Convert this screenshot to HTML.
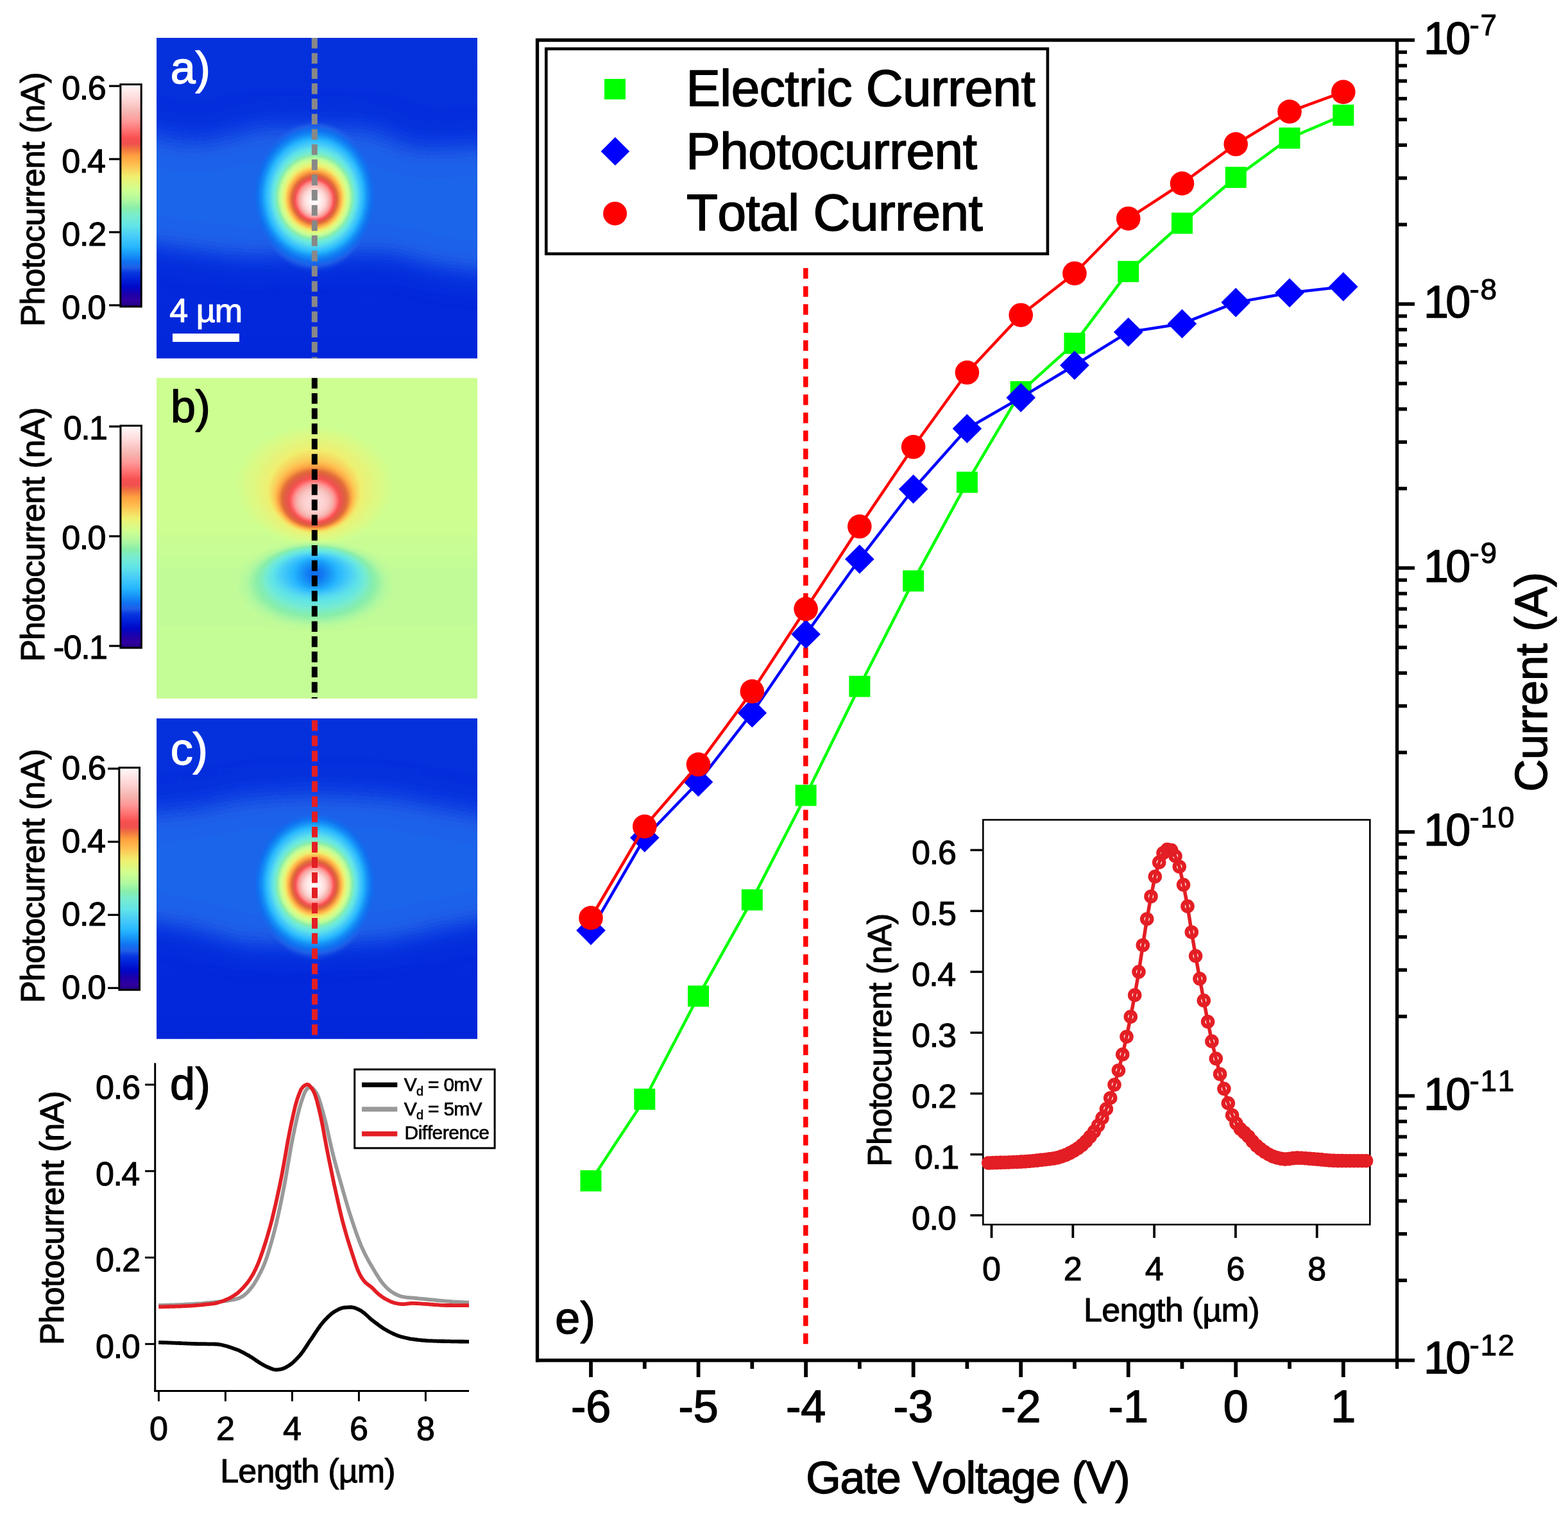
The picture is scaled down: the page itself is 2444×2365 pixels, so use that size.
<!DOCTYPE html>
<html><head><meta charset="utf-8"><title>Photocurrent figure</title>
<style>html,body{margin:0;padding:0;background:#fff}svg{display:block}text{font-family:"Liberation Sans",Arial,Helvetica,sans-serif;font-kerning:none;stroke-linejoin:round}</style>
</head><body>
<svg width="2444" height="2365" viewBox="0 0 2444 2365">
<defs>
<filter id="hm" x="-5%" y="-5%" width="110%" height="110%" color-interpolation-filters="sRGB">
<feGaussianBlur stdDeviation="2.6"/>
<feComponentTransfer><feFuncR type="table" tableValues="0.125 0.146 0.167 0.188 0.169 0.149 0.129 0.103 0.074 0.046 0.017 0.000 0.000 0.000 0.000 0.003 0.012 0.020 0.028 0.052 0.085 0.119 0.108 0.085 0.063 0.070 0.077 0.084 0.091 0.104 0.119 0.135 0.151 0.170 0.193 0.215 0.238 0.260 0.282 0.300 0.317 0.335 0.352 0.369 0.387 0.403 0.420 0.437 0.454 0.471 0.486 0.500 0.515 0.530 0.562 0.598 0.633 0.669 0.699 0.722 0.744 0.766 0.789 0.811 0.830 0.849 0.867 0.886 0.904 0.923 0.941 0.950 0.959 0.968 0.977 0.986 0.995 0.998 0.992 0.986 0.981 0.975 0.958 0.935 0.911 0.888 0.882 0.888 0.894 0.920 0.946 0.973 0.979 0.986 0.993 1.000 1.000 1.000 1.000 1.000 1.000 0.992 0.984 0.976 0.969 0.961 0.966 0.972 0.978 0.983 0.989 0.994 1.000 1.000 1.000 1.000 1.000 1.000 1.000 1.000 1.000"/><feFuncG type="table" tableValues="0.000 0.000 0.000 0.000 0.000 0.000 0.000 0.006 0.013 0.020 0.027 0.041 0.064 0.088 0.111 0.135 0.160 0.185 0.210 0.253 0.309 0.365 0.394 0.417 0.439 0.475 0.511 0.546 0.582 0.615 0.646 0.678 0.709 0.730 0.744 0.758 0.772 0.786 0.800 0.817 0.835 0.852 0.870 0.887 0.897 0.903 0.909 0.914 0.920 0.925 0.927 0.929 0.931 0.933 0.940 0.949 0.958 0.967 0.975 0.979 0.984 0.989 0.994 0.999 0.993 0.984 0.976 0.967 0.958 0.950 0.941 0.913 0.884 0.856 0.827 0.799 0.770 0.740 0.707 0.675 0.642 0.609 0.569 0.524 0.479 0.434 0.401 0.377 0.353 0.340 0.327 0.314 0.345 0.376 0.408 0.439 0.471 0.502 0.533 0.565 0.596 0.619 0.642 0.664 0.687 0.710 0.729 0.749 0.769 0.788 0.808 0.827 0.847 0.864 0.880 0.897 0.914 0.930 0.947 0.964 0.980"/><feFuncB type="table" tableValues="0.502 0.544 0.586 0.627 0.637 0.647 0.657 0.682 0.710 0.739 0.767 0.791 0.806 0.822 0.838 0.850 0.859 0.867 0.875 0.885 0.896 0.908 0.919 0.930 0.941 0.948 0.955 0.963 0.970 0.977 0.984 0.990 0.997 0.997 0.992 0.987 0.982 0.977 0.973 0.961 0.949 0.938 0.926 0.914 0.900 0.883 0.866 0.849 0.832 0.816 0.780 0.745 0.709 0.674 0.660 0.651 0.642 0.633 0.623 0.612 0.601 0.589 0.578 0.567 0.550 0.531 0.513 0.495 0.476 0.458 0.439 0.420 0.401 0.382 0.363 0.344 0.325 0.308 0.295 0.282 0.269 0.256 0.246 0.238 0.231 0.223 0.234 0.258 0.282 0.293 0.303 0.314 0.345 0.376 0.408 0.439 0.471 0.502 0.533 0.565 0.596 0.615 0.634 0.653 0.671 0.690 0.713 0.735 0.757 0.780 0.802 0.825 0.847 0.864 0.880 0.897 0.914 0.930 0.947 0.964 0.980"/><feFuncA type="linear" slope="0" intercept="1"/></feComponentTransfer></filter>
<linearGradient id="bgac" x1="0" y1="0" x2="0" y2="1"><stop offset="0" stop-color="#252525"/><stop offset="0.5" stop-color="#242424"/><stop offset="1" stop-color="#212121"/></linearGradient>
<filter id="hmb" x="-5%" y="-5%" width="110%" height="110%" color-interpolation-filters="sRGB">
<feGaussianBlur stdDeviation="3.0"/>
<feComponentTransfer><feFuncR type="table" tableValues="0.125 0.146 0.167 0.188 0.169 0.149 0.129 0.103 0.074 0.046 0.017 0.000 0.000 0.000 0.000 0.003 0.012 0.020 0.028 0.052 0.085 0.119 0.108 0.085 0.063 0.070 0.077 0.084 0.091 0.104 0.119 0.135 0.151 0.170 0.193 0.215 0.238 0.260 0.282 0.300 0.317 0.335 0.352 0.369 0.387 0.403 0.420 0.437 0.454 0.471 0.486 0.500 0.515 0.530 0.562 0.598 0.633 0.669 0.699 0.722 0.744 0.766 0.789 0.811 0.830 0.849 0.867 0.886 0.904 0.923 0.941 0.950 0.959 0.968 0.977 0.986 0.995 0.998 0.992 0.986 0.981 0.975 0.958 0.935 0.911 0.888 0.882 0.888 0.894 0.920 0.946 0.973 0.979 0.986 0.993 1.000 1.000 1.000 1.000 1.000 1.000 0.992 0.984 0.976 0.969 0.961 0.966 0.972 0.978 0.983 0.989 0.994 1.000 1.000 1.000 1.000 1.000 1.000 1.000 1.000 1.000"/><feFuncG type="table" tableValues="0.000 0.000 0.000 0.000 0.000 0.000 0.000 0.006 0.013 0.020 0.027 0.041 0.064 0.088 0.111 0.135 0.160 0.185 0.210 0.253 0.309 0.365 0.394 0.417 0.439 0.475 0.511 0.546 0.582 0.615 0.646 0.678 0.709 0.730 0.744 0.758 0.772 0.786 0.800 0.817 0.835 0.852 0.870 0.887 0.897 0.903 0.909 0.914 0.920 0.925 0.927 0.929 0.931 0.933 0.940 0.949 0.958 0.967 0.975 0.979 0.984 0.989 0.994 0.999 0.993 0.984 0.976 0.967 0.958 0.950 0.941 0.913 0.884 0.856 0.827 0.799 0.770 0.740 0.707 0.675 0.642 0.609 0.569 0.524 0.479 0.434 0.401 0.377 0.353 0.340 0.327 0.314 0.345 0.376 0.408 0.439 0.471 0.502 0.533 0.565 0.596 0.619 0.642 0.664 0.687 0.710 0.729 0.749 0.769 0.788 0.808 0.827 0.847 0.864 0.880 0.897 0.914 0.930 0.947 0.964 0.980"/><feFuncB type="table" tableValues="0.502 0.544 0.586 0.627 0.637 0.647 0.657 0.682 0.710 0.739 0.767 0.791 0.806 0.822 0.838 0.850 0.859 0.867 0.875 0.885 0.896 0.908 0.919 0.930 0.941 0.948 0.955 0.963 0.970 0.977 0.984 0.990 0.997 0.997 0.992 0.987 0.982 0.977 0.973 0.961 0.949 0.938 0.926 0.914 0.900 0.883 0.866 0.849 0.832 0.816 0.780 0.745 0.709 0.674 0.660 0.651 0.642 0.633 0.623 0.612 0.601 0.589 0.578 0.567 0.550 0.531 0.513 0.495 0.476 0.458 0.439 0.420 0.401 0.382 0.363 0.344 0.325 0.308 0.295 0.282 0.269 0.256 0.246 0.238 0.231 0.223 0.234 0.258 0.282 0.293 0.303 0.314 0.345 0.376 0.408 0.439 0.471 0.502 0.533 0.565 0.596 0.615 0.634 0.653 0.671 0.690 0.713 0.735 0.757 0.780 0.802 0.825 0.847 0.864 0.880 0.897 0.914 0.930 0.947 0.964 0.980"/><feFuncA type="linear" slope="0" intercept="1"/></feComponentTransfer></filter>
<filter id="soft" x="-30%" y="-30%" width="160%" height="160%" color-interpolation-filters="sRGB"><feGaussianBlur stdDeviation="24"/></filter>
<linearGradient id="cb" x1="0" y1="0" x2="0" y2="1"><stop offset="0.0000" stop-color="#fffafa"/><stop offset="0.0667" stop-color="#ffd8d8"/><stop offset="0.1250" stop-color="#f5b5b0"/><stop offset="0.1667" stop-color="#ff9898"/><stop offset="0.2083" stop-color="#ff7070"/><stop offset="0.2417" stop-color="#f85050"/><stop offset="0.2667" stop-color="#f05050"/><stop offset="0.2883" stop-color="#f07040"/><stop offset="0.3217" stop-color="#ffa040"/><stop offset="0.3617" stop-color="#ffc050"/><stop offset="0.4167" stop-color="#f0f070"/><stop offset="0.4733" stop-color="#d0ff90"/><stop offset="0.5200" stop-color="#b0f8a0"/><stop offset="0.5567" stop-color="#88eeaa"/><stop offset="0.5917" stop-color="#78ecd0"/><stop offset="0.6383" stop-color="#60e4e8"/><stop offset="0.6833" stop-color="#48ccf8"/><stop offset="0.7300" stop-color="#28b8ff"/><stop offset="0.7633" stop-color="#1898f8"/><stop offset="0.8000" stop-color="#1070f0"/><stop offset="0.8233" stop-color="#2060e8"/><stop offset="0.8467" stop-color="#0838e0"/><stop offset="0.8783" stop-color="#0020d8"/><stop offset="0.9117" stop-color="#0008c8"/><stop offset="0.9483" stop-color="#2000a8"/><stop offset="0.9750" stop-color="#3000a0"/><stop offset="1.0000" stop-color="#200080"/></linearGradient>
<clipPath id="clipa"><rect x="244.0" y="59.0" width="500.0" height="499.7"/></clipPath>
<clipPath id="clipb"><rect x="244.0" y="589.2" width="500.0" height="499.7"/></clipPath>
<linearGradient id="bgb" x1="0" y1="0" x2="0" y2="1"><stop offset="0" stop-color="#858585"/><stop offset="0.45" stop-color="#868686"/><stop offset="0.6" stop-color="#818181"/><stop offset="1" stop-color="#838383"/></linearGradient>
<clipPath id="clipc"><rect x="244.0" y="1120.0" width="500.0" height="499.7"/></clipPath>
</defs>
<rect width="2444" height="2365" fill="#fff"/>
<g clip-path="url(#clipa)"><g filter="url(#hm)">
<rect x="214.00" y="29.00" width="560.00" height="559.70" fill="url(#bgac)" />
<g filter="url(#soft)"><path d="M190,196 L296,222 L358,212 L403,196 L582,200 L645,230 L717,226 L790,226 L790,432 L681,420 L609,398 L376,404 L314,396 L190,378Z" fill="#2f2f2f"/></g>
<g style="mix-blend-mode:lighten">
<ellipse cx="490.3" cy="305.0" rx="106.0" ry="124.0" fill="#232323"/><ellipse cx="490.3" cy="305.0" rx="103.2" ry="120.5" fill="#262626"/><ellipse cx="490.3" cy="305.0" rx="100.4" ry="116.9" fill="#282828"/><ellipse cx="490.3" cy="305.0" rx="97.6" ry="113.5" fill="#2b2b2b"/><ellipse cx="490.3" cy="305.0" rx="95.3" ry="110.5" fill="#2d2d2d"/><ellipse cx="490.3" cy="305.0" rx="92.9" ry="107.5" fill="#303030"/><ellipse cx="490.3" cy="305.0" rx="90.6" ry="104.5" fill="#333333"/><ellipse cx="490.3" cy="305.0" rx="88.1" ry="101.8" fill="#353535"/><ellipse cx="490.3" cy="305.0" rx="85.7" ry="99.1" fill="#383838"/><ellipse cx="490.3" cy="305.0" rx="83.2" ry="96.4" fill="#3a3a3a"/><ellipse cx="490.3" cy="305.1" rx="81.3" ry="94.2" fill="#3d3d3d"/><ellipse cx="490.3" cy="305.2" rx="80.0" ry="92.7" fill="#3f3f3f"/><ellipse cx="490.3" cy="305.3" rx="78.7" ry="91.1" fill="#424242"/><ellipse cx="490.3" cy="305.4" rx="77.4" ry="89.5" fill="#444444"/><ellipse cx="490.3" cy="305.5" rx="76.1" ry="88.0" fill="#474747"/><ellipse cx="490.3" cy="305.7" rx="74.7" ry="86.4" fill="#4a4a4a"/><ellipse cx="490.3" cy="305.8" rx="73.4" ry="84.9" fill="#4c4c4c"/><ellipse cx="490.3" cy="305.9" rx="72.1" ry="83.3" fill="#4f4f4f"/><ellipse cx="490.3" cy="306.0" rx="70.8" ry="81.8" fill="#515151"/><ellipse cx="490.3" cy="306.1" rx="69.8" ry="80.4" fill="#545454"/><ellipse cx="490.3" cy="306.2" rx="68.8" ry="79.0" fill="#565656"/><ellipse cx="490.3" cy="306.3" rx="67.8" ry="77.6" fill="#595959"/><ellipse cx="490.3" cy="306.4" rx="66.8" ry="76.2" fill="#5b5b5b"/><ellipse cx="490.3" cy="306.5" rx="65.8" ry="74.8" fill="#5e5e5e"/><ellipse cx="490.3" cy="306.6" rx="64.8" ry="73.4" fill="#606060"/><ellipse cx="490.3" cy="306.7" rx="63.8" ry="72.0" fill="#636363"/><ellipse cx="490.3" cy="306.8" rx="62.8" ry="70.6" fill="#666666"/><ellipse cx="490.3" cy="306.9" rx="61.8" ry="69.2" fill="#686868"/><ellipse cx="490.3" cy="307.0" rx="60.9" ry="67.8" fill="#6b6b6b"/><ellipse cx="490.3" cy="307.1" rx="60.2" ry="66.9" fill="#6d6d6d"/><ellipse cx="490.3" cy="307.2" rx="59.4" ry="66.0" fill="#707070"/><ellipse cx="490.3" cy="307.3" rx="58.7" ry="65.1" fill="#727272"/><ellipse cx="490.3" cy="307.4" rx="58.0" ry="64.2" fill="#757575"/><ellipse cx="490.3" cy="307.5" rx="57.2" ry="63.3" fill="#777777"/><ellipse cx="490.3" cy="307.6" rx="56.5" ry="62.4" fill="#7a7a7a"/><ellipse cx="490.3" cy="307.7" rx="55.8" ry="61.5" fill="#7d7d7d"/><ellipse cx="490.3" cy="307.7" rx="55.1" ry="60.6" fill="#7f7f7f"/><ellipse cx="490.3" cy="307.8" rx="54.3" ry="59.7" fill="#828282"/><ellipse cx="490.3" cy="307.9" rx="53.6" ry="58.8" fill="#848484"/><ellipse cx="490.3" cy="308.0" rx="52.8" ry="57.8" fill="#878787"/><ellipse cx="490.3" cy="308.2" rx="51.8" ry="56.6" fill="#898989"/><ellipse cx="490.3" cy="308.4" rx="50.7" ry="55.3" fill="#8c8c8c"/><ellipse cx="490.3" cy="308.6" rx="49.6" ry="54.1" fill="#8e8e8e"/><ellipse cx="490.3" cy="308.7" rx="48.6" ry="52.9" fill="#919191"/><ellipse cx="490.3" cy="308.9" rx="47.5" ry="51.6" fill="#939393"/><ellipse cx="490.3" cy="309.1" rx="46.6" ry="50.6" fill="#969696"/><ellipse cx="490.3" cy="309.2" rx="45.9" ry="49.7" fill="#999999"/><ellipse cx="490.3" cy="309.3" rx="45.2" ry="48.9" fill="#9b9b9b"/><ellipse cx="490.3" cy="309.4" rx="44.5" ry="48.1" fill="#9e9e9e"/><ellipse cx="490.3" cy="309.5" rx="43.8" ry="47.2" fill="#a0a0a0"/><ellipse cx="490.3" cy="309.7" rx="43.0" ry="46.4" fill="#a3a3a3"/><ellipse cx="490.3" cy="309.8" rx="42.3" ry="45.5" fill="#a5a5a5"/><ellipse cx="490.3" cy="309.9" rx="41.6" ry="44.7" fill="#a8a8a8"/><ellipse cx="490.3" cy="310.0" rx="40.8" ry="43.8" fill="#aaaaaa"/><ellipse cx="490.3" cy="310.2" rx="39.9" ry="42.7" fill="#adadad"/><ellipse cx="490.3" cy="310.4" rx="39.0" ry="41.6" fill="#b0b0b0"/><ellipse cx="490.3" cy="310.6" rx="38.0" ry="40.4" fill="#b2b2b2"/><ellipse cx="490.3" cy="310.8" rx="37.1" ry="39.3" fill="#b5b5b5"/><ellipse cx="490.3" cy="311.0" rx="36.2" ry="38.2" fill="#b7b7b7"/><ellipse cx="490.3" cy="311.0" rx="34.3" ry="36.3" fill="#bababa"/><ellipse cx="490.3" cy="311.0" rx="32.2" ry="34.2" fill="#bcbcbc"/><ellipse cx="490.3" cy="311.1" rx="31.1" ry="33.1" fill="#bfbfbf"/><ellipse cx="490.3" cy="311.2" rx="30.5" ry="32.5" fill="#c1c1c1"/><ellipse cx="490.3" cy="311.3" rx="29.9" ry="31.9" fill="#c4c4c4"/><ellipse cx="490.3" cy="311.4" rx="29.3" ry="31.3" fill="#c6c6c6"/><ellipse cx="490.3" cy="311.5" rx="28.7" ry="30.7" fill="#c9c9c9"/><ellipse cx="490.3" cy="311.6" rx="28.1" ry="30.1" fill="#cccccc"/><ellipse cx="490.3" cy="311.7" rx="27.5" ry="29.5" fill="#cecece"/><ellipse cx="490.3" cy="311.8" rx="26.9" ry="28.9" fill="#d1d1d1"/><ellipse cx="490.3" cy="311.9" rx="26.3" ry="28.3" fill="#d3d3d3"/><ellipse cx="490.3" cy="312.1" rx="25.6" ry="27.6" fill="#d6d6d6"/><ellipse cx="490.3" cy="312.1" rx="24.8" ry="26.8" fill="#d8d8d8"/><ellipse cx="490.3" cy="312.2" rx="24.0" ry="26.0" fill="#dbdbdb"/><ellipse cx="490.3" cy="312.4" rx="23.2" ry="25.2" fill="#dddddd"/><ellipse cx="490.3" cy="312.4" rx="22.4" ry="24.4" fill="#e0e0e0"/><ellipse cx="490.3" cy="312.6" rx="21.6" ry="23.6" fill="#e3e3e3"/><ellipse cx="490.3" cy="312.6" rx="20.8" ry="22.8" fill="#e5e5e5"/><ellipse cx="490.3" cy="312.8" rx="20.0" ry="22.0" fill="#e8e8e8"/><ellipse cx="490.3" cy="312.9" rx="19.2" ry="21.2" fill="#eaeaea"/><ellipse cx="490.3" cy="312.9" rx="18.4" ry="20.4" fill="#ededed"/><ellipse cx="490.3" cy="313.0" rx="17.2" ry="19.1" fill="#efefef"/><ellipse cx="490.3" cy="313.0" rx="15.5" ry="17.3" fill="#f2f2f2"/><ellipse cx="490.3" cy="313.0" rx="13.9" ry="15.5" fill="#f4f4f4"/><ellipse cx="490.3" cy="313.0" rx="12.2" ry="13.7" fill="#f7f7f7"/><ellipse cx="490.3" cy="313.0" rx="10.6" ry="11.9" fill="#f9f9f9"/><ellipse cx="490.3" cy="313.0" rx="8.9" ry="10.1" fill="#fcfcfc"/><ellipse cx="490.3" cy="313.0" rx="7.3" ry="8.3" fill="#ffffff"/>
</g>
</g></g>
<g clip-path="url(#clipb)"><g filter="url(#hmb)">
<rect x="214.00" y="559.20" width="560.00" height="559.70" fill="url(#bgb)" />
<ellipse cx="490.3" cy="757.0" rx="120.0" ry="90.0" fill="#888888"/><ellipse cx="490.3" cy="758.2" rx="109.6" ry="85.2" fill="#8b8b8b"/><ellipse cx="490.3" cy="759.4" rx="99.2" ry="80.4" fill="#8d8d8d"/><ellipse cx="490.3" cy="760.8" rx="90.0" ry="75.6" fill="#909090"/><ellipse cx="490.3" cy="762.4" rx="82.0" ry="70.8" fill="#929292"/><ellipse cx="490.3" cy="764.0" rx="74.0" ry="66.0" fill="#959595"/><ellipse cx="490.3" cy="765.6" rx="71.6" ry="63.6" fill="#979797"/><ellipse cx="490.3" cy="767.3" rx="69.3" ry="61.3" fill="#9a9a9a"/><ellipse cx="490.3" cy="768.9" rx="66.9" ry="58.9" fill="#9c9c9c"/><ellipse cx="490.3" cy="770.5" rx="64.5" ry="56.5" fill="#9f9f9f"/><ellipse cx="490.3" cy="772.2" rx="62.2" ry="54.2" fill="#a2a2a2"/><ellipse cx="490.3" cy="773.4" rx="60.4" ry="52.4" fill="#a4a4a4"/><ellipse cx="490.3" cy="774.3" rx="59.3" ry="51.3" fill="#a7a7a7"/><ellipse cx="490.3" cy="775.2" rx="58.2" ry="50.2" fill="#a9a9a9"/><ellipse cx="490.3" cy="776.1" rx="57.1" ry="49.1" fill="#acacac"/><ellipse cx="490.3" cy="776.7" rx="55.9" ry="48.0" fill="#aeaeae"/><ellipse cx="490.3" cy="777.1" rx="54.7" ry="47.1" fill="#b1b1b1"/><ellipse cx="490.3" cy="777.5" rx="53.6" ry="46.2" fill="#b3b3b3"/><ellipse cx="490.3" cy="777.9" rx="52.4" ry="45.3" fill="#b6b6b6"/><ellipse cx="490.3" cy="778.2" rx="49.6" ry="43.0" fill="#b8b8b8"/><ellipse cx="490.3" cy="778.5" rx="46.0" ry="40.0" fill="#bbbbbb"/><ellipse cx="490.3" cy="778.9" rx="43.2" ry="37.6" fill="#bebebe"/><ellipse cx="490.3" cy="779.3" rx="40.4" ry="35.2" fill="#c0c0c0"/><ellipse cx="490.3" cy="779.6" rx="38.5" ry="33.6" fill="#c3c3c3"/><ellipse cx="490.3" cy="780.0" rx="37.6" ry="32.9" fill="#c5c5c5"/><ellipse cx="490.3" cy="780.2" rx="36.7" ry="32.1" fill="#c8c8c8"/><ellipse cx="490.3" cy="780.6" rx="35.9" ry="31.4" fill="#cacaca"/><ellipse cx="490.3" cy="780.9" rx="35.0" ry="30.7" fill="#cdcdcd"/><ellipse cx="490.3" cy="781.3" rx="34.2" ry="29.9" fill="#cfcfcf"/><ellipse cx="490.3" cy="781.6" rx="33.3" ry="29.2" fill="#d2d2d2"/><ellipse cx="490.3" cy="782.0" rx="32.5" ry="28.5" fill="#d5d5d5"/><ellipse cx="490.3" cy="782.1" rx="31.4" ry="27.6" fill="#d7d7d7"/><ellipse cx="490.3" cy="782.3" rx="30.2" ry="26.7" fill="#dadada"/><ellipse cx="490.3" cy="782.5" rx="29.1" ry="25.8" fill="#dcdcdc"/><ellipse cx="490.3" cy="782.6" rx="28.0" ry="24.9" fill="#dfdfdf"/><ellipse cx="490.3" cy="782.8" rx="26.9" ry="24.0" fill="#e1e1e1"/><ellipse cx="490.3" cy="782.9" rx="25.7" ry="23.1" fill="#e4e4e4"/><ellipse cx="490.3" cy="783.0" rx="23.9" ry="21.5" fill="#e6e6e6"/><ellipse cx="490.3" cy="783.2" rx="20.6" ry="18.7" fill="#e9e9e9"/><ellipse cx="490.3" cy="783.3" rx="17.3" ry="15.8" fill="#ebebeb"/><ellipse cx="490.3" cy="783.4" rx="14.0" ry="13.0" fill="#eeeeee"/>
<ellipse cx="492.0" cy="913.0" rx="126.0" ry="68.0" fill="#808080"/><ellipse cx="492.0" cy="912.0" rx="117.0" ry="65.0" fill="#7d7d7d"/><ellipse cx="492.0" cy="911.0" rx="108.0" ry="62.0" fill="#7a7a7a"/><ellipse cx="492.0" cy="910.0" rx="103.8" ry="60.2" fill="#787878"/><ellipse cx="492.0" cy="908.9" rx="99.7" ry="58.3" fill="#757575"/><ellipse cx="492.0" cy="907.9" rx="95.5" ry="56.5" fill="#737373"/><ellipse cx="492.0" cy="906.8" rx="91.3" ry="54.6" fill="#707070"/><ellipse cx="492.0" cy="905.4" rx="87.3" ry="52.4" fill="#6e6e6e"/><ellipse cx="492.0" cy="904.0" rx="83.3" ry="50.2" fill="#6b6b6b"/><ellipse cx="492.0" cy="902.9" rx="80.4" ry="48.2" fill="#696969"/><ellipse cx="492.0" cy="902.0" rx="78.0" ry="46.3" fill="#666666"/><ellipse cx="492.0" cy="901.1" rx="75.6" ry="44.4" fill="#636363"/><ellipse cx="492.0" cy="900.2" rx="73.2" ry="42.5" fill="#616161"/><ellipse cx="492.0" cy="899.3" rx="70.8" ry="40.6" fill="#5e5e5e"/><ellipse cx="492.0" cy="898.4" rx="68.0" ry="38.6" fill="#5c5c5c"/><ellipse cx="492.0" cy="897.5" rx="65.0" ry="36.5" fill="#595959"/><ellipse cx="492.0" cy="896.6" rx="62.0" ry="34.4" fill="#575757"/><ellipse cx="492.0" cy="895.9" rx="58.8" ry="32.7" fill="#545454"/><ellipse cx="492.0" cy="895.7" rx="55.2" ry="31.7" fill="#525252"/><ellipse cx="492.0" cy="895.5" rx="51.6" ry="30.7" fill="#4f4f4f"/><ellipse cx="492.0" cy="895.3" rx="48.0" ry="29.7" fill="#4c4c4c"/><ellipse cx="492.0" cy="895.1" rx="44.4" ry="28.7" fill="#4a4a4a"/><ellipse cx="492.0" cy="895.0" rx="40.8" ry="27.6" fill="#474747"/><ellipse cx="492.0" cy="895.0" rx="37.2" ry="26.4" fill="#454545"/><ellipse cx="492.0" cy="895.0" rx="33.6" ry="25.2" fill="#424242"/><ellipse cx="492.0" cy="895.0" rx="30.0" ry="24.0" fill="#404040"/><ellipse cx="492.0" cy="895.0" rx="26.0" ry="21.2" fill="#3d3d3d"/><ellipse cx="492.0" cy="895.0" rx="22.0" ry="18.4" fill="#3b3b3b"/><ellipse cx="492.0" cy="895.0" rx="18.0" ry="15.4" fill="#383838"/><ellipse cx="492.0" cy="895.0" rx="14.0" ry="12.2" fill="#363636"/><ellipse cx="492.0" cy="895.0" rx="10.0" ry="9.0" fill="#333333"/>
</g></g>
<g clip-path="url(#clipc)"><g filter="url(#hm)">
<rect x="214.00" y="1090.00" width="560.00" height="559.70" fill="url(#bgac)" />
<g filter="url(#soft)"><path d="M190,1268 L312,1258 L376,1242 L490,1236 L609,1242 L681,1256 L790,1276 L790,1430 L681,1452 L609,1470 L490,1476 L376,1476 L312,1454 L190,1432Z" fill="#2f2f2f"/></g>
<g style="mix-blend-mode:lighten">
<ellipse cx="490.5" cy="1377.7" rx="106.0" ry="124.0" fill="#232323"/><ellipse cx="490.5" cy="1377.7" rx="103.2" ry="120.5" fill="#262626"/><ellipse cx="490.5" cy="1377.7" rx="100.4" ry="116.9" fill="#282828"/><ellipse cx="490.5" cy="1377.7" rx="97.6" ry="113.5" fill="#2b2b2b"/><ellipse cx="490.5" cy="1377.7" rx="95.3" ry="110.5" fill="#2d2d2d"/><ellipse cx="490.5" cy="1377.7" rx="92.9" ry="107.5" fill="#303030"/><ellipse cx="490.5" cy="1377.7" rx="90.6" ry="104.5" fill="#333333"/><ellipse cx="490.5" cy="1377.7" rx="88.1" ry="101.8" fill="#353535"/><ellipse cx="490.5" cy="1377.7" rx="85.7" ry="99.1" fill="#383838"/><ellipse cx="490.5" cy="1377.7" rx="83.2" ry="96.4" fill="#3a3a3a"/><ellipse cx="490.5" cy="1377.7" rx="81.3" ry="94.2" fill="#3d3d3d"/><ellipse cx="490.5" cy="1377.8" rx="80.0" ry="92.7" fill="#3f3f3f"/><ellipse cx="490.5" cy="1377.8" rx="78.7" ry="91.1" fill="#424242"/><ellipse cx="490.5" cy="1377.8" rx="77.4" ry="89.5" fill="#444444"/><ellipse cx="490.5" cy="1377.9" rx="76.1" ry="88.0" fill="#474747"/><ellipse cx="490.5" cy="1377.9" rx="74.7" ry="86.4" fill="#4a4a4a"/><ellipse cx="490.5" cy="1378.0" rx="73.4" ry="84.9" fill="#4c4c4c"/><ellipse cx="490.5" cy="1378.0" rx="72.1" ry="83.3" fill="#4f4f4f"/><ellipse cx="490.5" cy="1378.1" rx="70.8" ry="81.8" fill="#515151"/><ellipse cx="490.5" cy="1378.1" rx="69.8" ry="80.4" fill="#545454"/><ellipse cx="490.5" cy="1378.1" rx="68.8" ry="79.0" fill="#565656"/><ellipse cx="490.5" cy="1378.2" rx="67.8" ry="77.6" fill="#595959"/><ellipse cx="490.5" cy="1378.2" rx="66.8" ry="76.2" fill="#5b5b5b"/><ellipse cx="490.5" cy="1378.2" rx="65.8" ry="74.8" fill="#5e5e5e"/><ellipse cx="490.5" cy="1378.3" rx="64.8" ry="73.4" fill="#606060"/><ellipse cx="490.5" cy="1378.3" rx="63.8" ry="72.0" fill="#636363"/><ellipse cx="490.5" cy="1378.3" rx="62.8" ry="70.6" fill="#666666"/><ellipse cx="490.5" cy="1378.4" rx="61.8" ry="69.2" fill="#686868"/><ellipse cx="490.5" cy="1378.4" rx="60.9" ry="67.8" fill="#6b6b6b"/><ellipse cx="490.5" cy="1378.4" rx="60.2" ry="66.9" fill="#6d6d6d"/><ellipse cx="490.5" cy="1378.5" rx="59.4" ry="66.0" fill="#707070"/><ellipse cx="490.5" cy="1378.5" rx="58.7" ry="65.1" fill="#727272"/><ellipse cx="490.5" cy="1378.5" rx="58.0" ry="64.2" fill="#757575"/><ellipse cx="490.5" cy="1378.6" rx="57.2" ry="63.3" fill="#777777"/><ellipse cx="490.5" cy="1378.6" rx="56.5" ry="62.4" fill="#7a7a7a"/><ellipse cx="490.5" cy="1378.6" rx="55.8" ry="61.5" fill="#7d7d7d"/><ellipse cx="490.5" cy="1378.7" rx="55.1" ry="60.6" fill="#7f7f7f"/><ellipse cx="490.5" cy="1378.7" rx="54.3" ry="59.7" fill="#828282"/><ellipse cx="490.5" cy="1378.7" rx="53.6" ry="58.8" fill="#848484"/><ellipse cx="490.5" cy="1378.8" rx="52.8" ry="57.8" fill="#878787"/><ellipse cx="490.5" cy="1378.8" rx="51.8" ry="56.6" fill="#898989"/><ellipse cx="490.5" cy="1378.9" rx="50.7" ry="55.3" fill="#8c8c8c"/><ellipse cx="490.5" cy="1378.9" rx="49.6" ry="54.1" fill="#8e8e8e"/><ellipse cx="490.5" cy="1379.0" rx="48.6" ry="52.9" fill="#919191"/><ellipse cx="490.5" cy="1379.1" rx="47.5" ry="51.6" fill="#939393"/><ellipse cx="490.5" cy="1379.1" rx="46.6" ry="50.6" fill="#969696"/><ellipse cx="490.5" cy="1379.2" rx="45.9" ry="49.7" fill="#999999"/><ellipse cx="490.5" cy="1379.2" rx="45.2" ry="48.9" fill="#9b9b9b"/><ellipse cx="490.5" cy="1379.2" rx="44.5" ry="48.1" fill="#9e9e9e"/><ellipse cx="490.5" cy="1379.3" rx="43.8" ry="47.2" fill="#a0a0a0"/><ellipse cx="490.5" cy="1379.3" rx="43.0" ry="46.4" fill="#a3a3a3"/><ellipse cx="490.5" cy="1379.4" rx="42.3" ry="45.5" fill="#a5a5a5"/><ellipse cx="490.5" cy="1379.4" rx="41.6" ry="44.7" fill="#a8a8a8"/><ellipse cx="490.5" cy="1379.5" rx="40.8" ry="43.8" fill="#aaaaaa"/><ellipse cx="490.5" cy="1379.5" rx="39.9" ry="42.7" fill="#adadad"/><ellipse cx="490.5" cy="1379.6" rx="39.0" ry="41.6" fill="#b0b0b0"/><ellipse cx="490.5" cy="1379.7" rx="38.0" ry="40.4" fill="#b2b2b2"/><ellipse cx="490.5" cy="1379.7" rx="37.1" ry="39.3" fill="#b5b5b5"/><ellipse cx="490.5" cy="1379.8" rx="36.2" ry="38.2" fill="#b7b7b7"/><ellipse cx="490.5" cy="1379.8" rx="34.3" ry="36.3" fill="#bababa"/><ellipse cx="490.5" cy="1379.8" rx="32.2" ry="34.2" fill="#bcbcbc"/><ellipse cx="490.5" cy="1379.8" rx="31.1" ry="33.1" fill="#bfbfbf"/><ellipse cx="490.5" cy="1379.9" rx="30.5" ry="32.5" fill="#c1c1c1"/><ellipse cx="490.5" cy="1379.9" rx="29.9" ry="31.9" fill="#c4c4c4"/><ellipse cx="490.5" cy="1379.9" rx="29.3" ry="31.3" fill="#c6c6c6"/><ellipse cx="490.5" cy="1380.0" rx="28.7" ry="30.7" fill="#c9c9c9"/><ellipse cx="490.5" cy="1380.0" rx="28.1" ry="30.1" fill="#cccccc"/><ellipse cx="490.5" cy="1380.1" rx="27.5" ry="29.5" fill="#cecece"/><ellipse cx="490.5" cy="1380.1" rx="26.9" ry="28.9" fill="#d1d1d1"/><ellipse cx="490.5" cy="1380.1" rx="26.3" ry="28.3" fill="#d3d3d3"/><ellipse cx="490.5" cy="1380.2" rx="25.6" ry="27.6" fill="#d6d6d6"/><ellipse cx="490.5" cy="1380.2" rx="24.8" ry="26.8" fill="#d8d8d8"/><ellipse cx="490.5" cy="1380.2" rx="24.0" ry="26.0" fill="#dbdbdb"/><ellipse cx="490.5" cy="1380.3" rx="23.2" ry="25.2" fill="#dddddd"/><ellipse cx="490.5" cy="1380.3" rx="22.4" ry="24.4" fill="#e0e0e0"/><ellipse cx="490.5" cy="1380.3" rx="21.6" ry="23.6" fill="#e3e3e3"/><ellipse cx="490.5" cy="1380.4" rx="20.8" ry="22.8" fill="#e5e5e5"/><ellipse cx="490.5" cy="1380.4" rx="20.0" ry="22.0" fill="#e8e8e8"/><ellipse cx="490.5" cy="1380.4" rx="19.2" ry="21.2" fill="#eaeaea"/><ellipse cx="490.5" cy="1380.5" rx="18.4" ry="20.4" fill="#ededed"/><ellipse cx="490.5" cy="1380.5" rx="17.2" ry="19.1" fill="#efefef"/><ellipse cx="490.5" cy="1380.5" rx="15.5" ry="17.3" fill="#f2f2f2"/><ellipse cx="490.5" cy="1380.5" rx="13.9" ry="15.5" fill="#f4f4f4"/><ellipse cx="490.5" cy="1380.5" rx="12.2" ry="13.7" fill="#f7f7f7"/><ellipse cx="490.5" cy="1380.5" rx="10.6" ry="11.9" fill="#f9f9f9"/><ellipse cx="490.5" cy="1380.5" rx="8.9" ry="10.1" fill="#fcfcfc"/><ellipse cx="490.5" cy="1380.5" rx="7.3" ry="8.3" fill="#ffffff"/>
</g>
</g></g>
<line x1="490.3" y1="59.0" x2="490.3" y2="558.7" stroke="#888888" stroke-width="9" stroke-dasharray="16.6 7.10"/>
<line x1="490.3" y1="589.2" x2="490.3" y2="1088.9" stroke="#000000" stroke-width="9" stroke-dasharray="16.6 7.10"/>
<line x1="490.5" y1="1123.0" x2="490.5" y2="1614" stroke="#e31e24" stroke-width="9" stroke-dasharray="16.6 7.10"/>
<text x="265.66" y="130.0" font-size="70" letter-spacing="0.003" fill="#fff" stroke="#fff" stroke-width="1.47">a)</text>
<text x="266.02" y="658.4" font-size="70" letter-spacing="-0.359" fill="#000" stroke="#000" stroke-width="1.47">b)</text>
<text x="265.66" y="1192.1" font-size="70" letter-spacing="-0.066" fill="#fff" stroke="#fff" stroke-width="1.47">c)</text>
<text x="265.00" y="1714.2" font-size="70" letter-spacing="0.469" fill="#000" stroke="#000" stroke-width="1.47">d)</text>
<text x="264.15" y="502.1" font-size="52" letter-spacing="-0.871" fill="#fff" stroke="#fff" stroke-width="1.09">4 µm</text>
<rect x="269.00" y="520.00" width="104.00" height="13.00" fill="#fff" />
<rect x="187.80" y="131.60" width="32.40" height="346.40" fill="url(#cb)" stroke="#000" stroke-width="3.0"/>
<line x1="170.00" y1="134.10" x2="186.80" y2="134.10" stroke="#000" stroke-width="3.2" />
<text x="96.31" y="154.9" font-size="52" letter-spacing="-1.430" fill="#000" stroke="#000" stroke-width="1.09">0.6</text>
<line x1="170.00" y1="248.03" x2="186.80" y2="248.03" stroke="#000" stroke-width="3.2" />
<text x="96.31" y="268.8" font-size="52" letter-spacing="-1.811" fill="#000" stroke="#000" stroke-width="1.09">0.4</text>
<line x1="170.00" y1="361.96" x2="186.80" y2="361.96" stroke="#000" stroke-width="3.2" />
<text x="96.31" y="382.8" font-size="52" letter-spacing="-1.265" fill="#000" stroke="#000" stroke-width="1.09">0.2</text>
<line x1="170.00" y1="475.89" x2="186.80" y2="475.89" stroke="#000" stroke-width="3.2" />
<text x="96.31" y="496.7" font-size="52" letter-spacing="-1.557" fill="#000" stroke="#000" stroke-width="1.09">0.0</text>
<text transform="translate(68.6,505.6) rotate(-90)" x="-3.72" y="0" font-size="52" letter-spacing="-0.838" fill="#000" stroke="#000" stroke-width="1.09">Photocurrent (nA)</text>
<rect x="187.90" y="663.70" width="32.50" height="346.30" fill="url(#cb)" stroke="#000" stroke-width="3.0"/>
<line x1="170.10" y1="664.90" x2="186.90" y2="664.90" stroke="#000" stroke-width="3.2" />
<text x="98.77" y="685.2" font-size="52" letter-spacing="-1.512" fill="#000" stroke="#000" stroke-width="1.09">0.1</text>
<line x1="170.10" y1="836.00" x2="186.90" y2="836.00" stroke="#000" stroke-width="3.2" />
<text x="96.31" y="856.3" font-size="52" letter-spacing="-1.557" fill="#000" stroke="#000" stroke-width="1.09">0.0</text>
<line x1="170.10" y1="1007.00" x2="186.90" y2="1007.00" stroke="#000" stroke-width="3.2" />
<text x="82.96" y="1027.3" font-size="52" letter-spacing="-1.512" fill="#000" stroke="#000" stroke-width="1.09">-0.1</text>
<text transform="translate(68.5,1028.0) rotate(-90)" x="-3.72" y="0" font-size="52" letter-spacing="-0.851" fill="#000" stroke="#000" stroke-width="1.09">Photocurrent (nA)</text>
<rect x="185.80" y="1196.80" width="31.70" height="346.40" fill="url(#cb)" stroke="#000" stroke-width="3.0"/>
<line x1="168.00" y1="1198.30" x2="184.80" y2="1198.30" stroke="#000" stroke-width="3.2" />
<text x="96.31" y="1215.3" font-size="52" letter-spacing="-1.430" fill="#000" stroke="#000" stroke-width="1.09">0.6</text>
<line x1="168.00" y1="1312.30" x2="184.80" y2="1312.30" stroke="#000" stroke-width="3.2" />
<text x="96.31" y="1329.3" font-size="52" letter-spacing="-1.811" fill="#000" stroke="#000" stroke-width="1.09">0.4</text>
<line x1="168.00" y1="1426.30" x2="184.80" y2="1426.30" stroke="#000" stroke-width="3.2" />
<text x="96.31" y="1443.3" font-size="52" letter-spacing="-1.265" fill="#000" stroke="#000" stroke-width="1.09">0.2</text>
<line x1="168.00" y1="1540.30" x2="184.80" y2="1540.30" stroke="#000" stroke-width="3.2" />
<text x="96.31" y="1557.3" font-size="52" letter-spacing="-1.557" fill="#000" stroke="#000" stroke-width="1.09">0.0</text>
<text transform="translate(68.5,1560.0) rotate(-90)" x="-3.72" y="0" font-size="52" letter-spacing="-0.888" fill="#000" stroke="#000" stroke-width="1.09">Photocurrent (nA)</text>
<polyline points="247.2,2092.8 250.2,2092.9 253.3,2093.0 256.3,2093.1 259.4,2093.2 262.4,2093.3 265.5,2093.4 268.5,2093.6 271.5,2093.7 274.6,2093.8 277.6,2093.9 280.7,2094.0 283.7,2094.2 286.8,2094.3 289.8,2094.4 292.8,2094.6 295.9,2094.7 298.9,2094.8 302.0,2094.9 305.0,2095.0 308.1,2095.1 311.1,2095.1 314.1,2095.2 317.2,2095.2 320.2,2095.2 323.3,2095.3 326.3,2095.3 329.4,2095.3 332.4,2095.4 335.4,2095.5 338.5,2095.7 341.5,2096.0 344.6,2096.5 347.6,2097.2 350.7,2098.0 353.7,2098.8 356.7,2099.8 359.8,2100.8 362.8,2101.8 365.9,2102.9 368.9,2103.9 372.0,2105.2 375.0,2106.6 378.0,2108.1 381.1,2109.7 384.1,2111.4 387.2,2113.1 390.2,2114.9 393.3,2116.8 396.3,2118.9 399.3,2121.0 402.4,2123.0 405.4,2125.0 408.5,2126.9 411.5,2128.5 414.6,2130.1 417.6,2131.5 420.6,2132.7 423.7,2134.0 426.7,2135.0 429.8,2135.5 432.8,2135.3 435.9,2134.9 438.9,2134.3 441.9,2133.4 445.0,2132.1 448.0,2130.3 451.1,2128.4 454.1,2126.2 457.2,2123.6 460.2,2120.7 463.2,2117.6 466.3,2114.3 469.3,2110.7 472.4,2106.6 475.4,2102.1 478.5,2097.4 481.5,2092.7 484.5,2088.3 487.6,2083.8 490.6,2079.2 493.7,2074.7 496.7,2070.2 499.7,2066.0 502.8,2062.1 505.8,2058.6 508.9,2055.4 511.9,2052.4 515.0,2049.6 518.0,2047.1 521.0,2045.0 524.1,2043.3 527.1,2041.7 530.2,2040.2 533.2,2039.1 536.3,2038.5 539.3,2038.3 542.3,2038.1 545.4,2038.0 548.4,2038.0 551.5,2038.6 554.5,2039.6 557.6,2040.9 560.6,2042.3 563.6,2044.1 566.7,2046.3 569.7,2048.9 572.8,2051.7 575.8,2054.5 578.9,2057.2 581.9,2059.6 584.9,2061.9 588.0,2064.2 591.0,2066.4 594.1,2068.6 597.1,2070.7 600.2,2072.6 603.2,2074.3 606.2,2076.0 609.3,2077.5 612.3,2079.0 615.4,2080.4 618.4,2081.7 621.5,2082.8 624.5,2083.7 627.5,2084.5 630.6,2085.3 633.6,2086.0 636.7,2086.7 639.7,2087.3 642.8,2087.7 645.8,2088.2 648.8,2088.5 651.9,2088.9 654.9,2089.2 658.0,2089.5 661.0,2089.7 664.1,2090.0 667.1,2090.2 670.1,2090.3 673.2,2090.4 676.2,2090.6 679.3,2090.7 682.3,2090.8 685.4,2090.9 688.4,2091.0 691.4,2091.0 694.5,2091.1 697.5,2091.2 700.6,2091.2 703.6,2091.3 706.7,2091.3 709.7,2091.4 712.7,2091.4 715.8,2091.5 718.8,2091.5 721.9,2091.5 724.9,2091.6 728.0,2091.6 731.0,2091.6" fill="none" stroke="#000" stroke-width="5.8" stroke-linejoin="round" />
<polyline points="247.2,2034.9 250.2,2034.9 253.3,2034.8 256.3,2034.8 259.4,2034.7 262.4,2034.6 265.5,2034.5 268.5,2034.4 271.5,2034.3 274.6,2034.2 277.6,2034.1 280.7,2034.0 283.7,2033.8 286.8,2033.7 289.8,2033.5 292.8,2033.4 295.9,2033.2 298.9,2033.1 302.0,2032.9 305.0,2032.7 308.1,2032.5 311.1,2032.3 314.1,2032.1 317.2,2031.8 320.2,2031.5 323.3,2031.2 326.3,2031.0 329.4,2030.6 332.4,2030.3 335.4,2030.0 338.5,2029.7 341.5,2029.3 344.6,2029.0 347.6,2028.6 350.7,2028.3 353.7,2027.9 356.7,2027.4 359.8,2026.9 362.8,2026.4 365.9,2025.8 368.9,2025.0 372.0,2024.0 375.0,2022.6 378.0,2021.0 381.1,2018.9 384.1,2016.2 387.2,2013.0 390.2,2009.5 393.3,2005.7 396.3,2001.3 399.3,1996.3 402.4,1990.8 405.4,1984.9 408.5,1978.8 411.5,1972.0 414.6,1964.0 417.6,1954.9 420.6,1945.0 423.7,1934.3 426.7,1923.0 429.8,1911.0 432.8,1897.9 435.9,1884.0 438.9,1869.4 441.9,1854.3 445.0,1838.1 448.0,1820.4 451.1,1802.4 454.1,1785.0 457.2,1769.5 460.2,1755.2 463.2,1741.6 466.3,1729.3 469.3,1718.8 472.4,1709.8 475.4,1702.0 478.5,1697.6 481.5,1695.3 484.5,1695.0 487.6,1697.0 490.6,1700.4 493.7,1704.6 496.7,1711.5 499.7,1721.0 502.8,1731.8 505.8,1742.8 508.9,1755.0 511.9,1768.7 515.0,1782.6 518.0,1795.6 521.0,1807.4 524.1,1818.8 527.1,1829.8 530.2,1840.6 533.2,1851.3 536.3,1862.0 539.3,1872.5 542.3,1882.7 545.4,1892.6 548.4,1901.9 551.5,1911.0 554.5,1919.9 557.6,1928.4 560.6,1936.4 563.6,1943.8 566.7,1950.5 569.7,1956.7 572.8,1962.5 575.8,1968.0 578.9,1973.3 581.9,1978.4 584.9,1983.5 588.0,1988.4 591.0,1993.2 594.1,1997.5 597.1,2001.4 600.2,2004.9 603.2,2008.0 606.2,2010.9 609.3,2013.2 612.3,2015.2 615.4,2016.9 618.4,2018.5 621.5,2019.8 624.5,2020.9 627.5,2021.7 630.6,2022.2 633.6,2022.6 636.7,2022.9 639.7,2023.2 642.8,2023.4 645.8,2023.7 648.8,2024.0 651.9,2024.3 654.9,2024.6 658.0,2024.9 661.0,2025.2 664.1,2025.5 667.1,2025.8 670.1,2026.1 673.2,2026.4 676.2,2026.7 679.3,2027.0 682.3,2027.3 685.4,2027.6 688.4,2027.9 691.4,2028.2 694.5,2028.4 697.5,2028.7 700.6,2028.9 703.6,2029.2 706.7,2029.4 709.7,2029.6 712.7,2029.7 715.8,2029.9 718.8,2030.1 721.9,2030.2 724.9,2030.4 728.0,2030.5 731.0,2030.6" fill="none" stroke="#999999" stroke-width="5.8" stroke-linejoin="round" />
<polyline points="247.2,2037.4 250.2,2037.3 253.3,2037.3 256.3,2037.2 259.4,2037.1 262.4,2037.0 265.5,2036.9 268.5,2036.8 271.5,2036.8 274.6,2036.7 277.6,2036.6 280.7,2036.5 283.7,2036.3 286.8,2036.2 289.8,2036.1 292.8,2035.9 295.9,2035.8 298.9,2035.6 302.0,2035.4 305.0,2035.1 308.1,2034.8 311.1,2034.6 314.1,2034.3 317.2,2034.0 320.2,2033.7 323.3,2033.4 326.3,2033.1 329.4,2032.7 332.4,2032.3 335.4,2031.8 338.5,2031.1 341.5,2030.3 344.6,2029.3 347.6,2028.2 350.7,2027.0 353.7,2025.8 356.7,2024.4 359.8,2022.8 362.8,2021.0 365.9,2019.0 368.9,2016.9 372.0,2014.4 375.0,2011.5 378.0,2008.5 381.1,2005.2 384.1,2001.6 387.2,1997.7 390.2,1993.3 393.3,1988.3 396.3,1982.8 399.3,1976.7 402.4,1969.7 405.4,1961.7 408.5,1953.1 411.5,1944.0 414.6,1934.5 417.6,1924.4 420.6,1913.7 423.7,1902.2 426.7,1889.8 429.8,1876.7 432.8,1862.9 435.9,1848.6 438.9,1833.7 441.9,1817.4 445.0,1799.9 448.0,1782.5 451.1,1766.0 454.1,1751.4 457.2,1737.3 460.2,1724.4 463.2,1714.0 466.3,1705.3 469.3,1698.2 472.4,1694.2 475.4,1691.9 478.5,1690.6 481.5,1691.5 484.5,1694.7 487.6,1699.3 490.6,1705.4 493.7,1715.0 496.7,1727.0 499.7,1739.8 502.8,1754.8 505.8,1771.5 508.9,1788.1 511.9,1803.4 515.0,1818.3 518.0,1833.0 521.0,1847.3 524.1,1861.2 527.1,1874.9 530.2,1888.3 533.2,1900.9 536.3,1912.5 539.3,1923.3 542.3,1933.5 545.4,1943.2 548.4,1952.6 551.5,1962.1 554.5,1971.4 557.6,1979.7 560.6,1986.4 563.6,1991.7 566.7,1996.1 569.7,1999.5 572.8,2002.1 575.8,2004.3 578.9,2006.6 581.9,2009.5 584.9,2012.7 588.0,2015.8 591.0,2018.4 594.1,2020.7 597.1,2022.8 600.2,2024.7 603.2,2026.3 606.2,2027.9 609.3,2029.3 612.3,2030.5 615.4,2031.4 618.4,2032.0 621.5,2032.6 624.5,2033.0 627.5,2033.2 630.6,2033.1 633.6,2032.7 636.7,2032.3 639.7,2031.9 642.8,2031.8 645.8,2031.9 648.8,2032.0 651.9,2032.2 654.9,2032.4 658.0,2032.6 661.0,2032.8 664.1,2033.0 667.1,2033.2 670.1,2033.5 673.2,2033.7 676.2,2034.0 679.3,2034.2 682.3,2034.4 685.4,2034.6 688.4,2034.8 691.4,2034.9 694.5,2035.0 697.5,2035.0 700.6,2035.0 703.6,2035.0 706.7,2035.1 709.7,2035.1 712.7,2035.1 715.8,2035.1 718.8,2035.1 721.9,2035.1 724.9,2035.1 728.0,2035.1 731.0,2035.1" fill="none" stroke="#e31e24" stroke-width="5.8" stroke-linejoin="round" />
<line x1="241.70" y1="1657.30" x2="241.70" y2="2170.00" stroke="#000" stroke-width="3" />
<line x1="240.20" y1="2168.50" x2="731.00" y2="2168.50" stroke="#000" stroke-width="3" />
<line x1="226.10" y1="1691.00" x2="241.70" y2="1691.00" stroke="#000" stroke-width="3" />
<text x="149.11" y="1712.8" font-size="52" letter-spacing="-1.230" fill="#000" stroke="#000" stroke-width="1.09">0.6</text>
<line x1="226.10" y1="1825.77" x2="241.70" y2="1825.77" stroke="#000" stroke-width="3" />
<text x="149.11" y="1847.6" font-size="52" letter-spacing="-1.611" fill="#000" stroke="#000" stroke-width="1.09">0.4</text>
<line x1="226.10" y1="1960.54" x2="241.70" y2="1960.54" stroke="#000" stroke-width="3" />
<text x="149.11" y="1982.3" font-size="52" letter-spacing="-1.065" fill="#000" stroke="#000" stroke-width="1.09">0.2</text>
<line x1="226.10" y1="2095.31" x2="241.70" y2="2095.31" stroke="#000" stroke-width="3" />
<text x="149.11" y="2117.1" font-size="52" letter-spacing="-1.357" fill="#000" stroke="#000" stroke-width="1.09">0.0</text>
<line x1="247.40" y1="2168.50" x2="247.40" y2="2184.60" stroke="#000" stroke-width="3" />
<text x="232.94" y="2245.3" font-size="52" letter-spacing="0.000" fill="#000" stroke="#000" stroke-width="1.09">0</text>
<line x1="351.40" y1="2168.50" x2="351.40" y2="2184.60" stroke="#000" stroke-width="3" />
<text x="336.94" y="2245.3" font-size="52" letter-spacing="0.000" fill="#000" stroke="#000" stroke-width="1.09">2</text>
<line x1="455.40" y1="2168.50" x2="455.40" y2="2184.60" stroke="#000" stroke-width="3" />
<text x="440.94" y="2245.3" font-size="52" letter-spacing="0.000" fill="#000" stroke="#000" stroke-width="1.09">4</text>
<line x1="559.40" y1="2168.50" x2="559.40" y2="2184.60" stroke="#000" stroke-width="3" />
<text x="544.94" y="2245.3" font-size="52" letter-spacing="0.000" fill="#000" stroke="#000" stroke-width="1.09">6</text>
<line x1="663.40" y1="2168.50" x2="663.40" y2="2184.60" stroke="#000" stroke-width="3" />
<text x="648.94" y="2245.3" font-size="52" letter-spacing="0.000" fill="#000" stroke="#000" stroke-width="1.09">8</text>
<text x="343.18" y="2311.1" font-size="52" letter-spacing="-0.790" fill="#000" stroke="#000" stroke-width="1.09">Length (µm)</text>
<text transform="translate(98.5,2093.3) rotate(-90)" x="-3.72" y="0" font-size="52" letter-spacing="-0.876" fill="#000" stroke="#000" stroke-width="1.09">Photocurrent (nA)</text>
<rect x="552.70" y="1667.20" width="218.40" height="122.70" fill="#fff" stroke="#000" stroke-width="3"/>
<line x1="564.00" y1="1691.20" x2="619.30" y2="1691.20" stroke="#000" stroke-width="7.6" />
<line x1="564.00" y1="1729.20" x2="619.30" y2="1729.20" stroke="#999999" stroke-width="7.6" />
<line x1="564.00" y1="1767.60" x2="619.30" y2="1767.60" stroke="#e31e24" stroke-width="7.6" />
<text x="629.8" y="1701.1" font-size="30" letter-spacing="-0.75" fill="#000" stroke="#000" stroke-width="0.7">V<tspan font-size="20" dy="6.4">d</tspan><tspan dy="-6.4"> = 0mV</tspan></text>
<text x="629.8" y="1738.7" font-size="30" letter-spacing="-0.75" fill="#000" stroke="#000" stroke-width="0.7">V<tspan font-size="20" dy="6.4">d</tspan><tspan dy="-6.4"> = 5mV</tspan></text>
<text x="630.49" y="1775.7" font-size="30" letter-spacing="-0.471" fill="#000" stroke="#000" stroke-width="0.7">Difference</text>
<line x1="1255.8" y1="418" x2="1255.8" y2="2095.3" stroke="#ff0000" stroke-width="7.5" stroke-dasharray="16.5 11.65"/>
<polyline points="921.0,1840.9 1004.8,1713.7 1088.5,1553.0 1172.3,1402.9 1256.1,1240.0 1339.8,1070.1 1423.6,905.7 1507.4,751.9 1591.2,610.7 1674.9,535.2 1758.7,423.3 1842.5,348.0 1926.2,276.5 2010.0,215.3 2093.8,179.6" fill="none" stroke="#00ff00" stroke-width="4.5" stroke-linejoin="round" />
<rect x="904.50" y="1824.40" width="33.00" height="33.00" fill="#00ff00" />
<rect x="988.27" y="1697.20" width="33.00" height="33.00" fill="#00ff00" />
<rect x="1072.04" y="1536.50" width="33.00" height="33.00" fill="#00ff00" />
<rect x="1155.81" y="1386.40" width="33.00" height="33.00" fill="#00ff00" />
<rect x="1239.58" y="1223.50" width="33.00" height="33.00" fill="#00ff00" />
<rect x="1323.35" y="1053.60" width="33.00" height="33.00" fill="#00ff00" />
<rect x="1407.12" y="889.20" width="33.00" height="33.00" fill="#00ff00" />
<rect x="1490.89" y="735.40" width="33.00" height="33.00" fill="#00ff00" />
<rect x="1574.66" y="594.20" width="33.00" height="33.00" fill="#00ff00" />
<rect x="1658.43" y="518.70" width="33.00" height="33.00" fill="#00ff00" />
<rect x="1742.20" y="406.80" width="33.00" height="33.00" fill="#00ff00" />
<rect x="1825.97" y="331.50" width="33.00" height="33.00" fill="#00ff00" />
<rect x="1909.74" y="260.00" width="33.00" height="33.00" fill="#00ff00" />
<rect x="1993.51" y="198.80" width="33.00" height="33.00" fill="#00ff00" />
<rect x="2077.28" y="163.10" width="33.00" height="33.00" fill="#00ff00" />
<polyline points="921.0,1450.6 1004.8,1306.0 1088.5,1219.3 1172.3,1111.4 1256.1,988.8 1339.8,871.8 1423.6,762.5 1507.4,668.2 1591.2,619.9 1674.9,569.5 1758.7,517.7 1842.5,504.7 1926.2,471.6 2010.0,456.5 2093.8,447.0" fill="none" stroke="#0000ff" stroke-width="4.5" stroke-linejoin="round" />
<path d="M898.2,1450.6 L921.0,1427.8 L943.8,1450.6 L921.0,1473.4Z" fill="#0000ff"/>
<path d="M982.0,1306.0 L1004.8,1283.2 L1027.6,1306.0 L1004.8,1328.8Z" fill="#0000ff"/>
<path d="M1065.7,1219.3 L1088.5,1196.5 L1111.3,1219.3 L1088.5,1242.1Z" fill="#0000ff"/>
<path d="M1149.5,1111.4 L1172.3,1088.6 L1195.1,1111.4 L1172.3,1134.2Z" fill="#0000ff"/>
<path d="M1233.3,988.8 L1256.1,966.0 L1278.9,988.8 L1256.1,1011.6Z" fill="#0000ff"/>
<path d="M1317.0,871.8 L1339.8,849.0 L1362.6,871.8 L1339.8,894.6Z" fill="#0000ff"/>
<path d="M1400.8,762.5 L1423.6,739.7 L1446.4,762.5 L1423.6,785.3Z" fill="#0000ff"/>
<path d="M1484.6,668.2 L1507.4,645.4 L1530.2,668.2 L1507.4,691.0Z" fill="#0000ff"/>
<path d="M1568.4,619.9 L1591.2,597.1 L1614.0,619.9 L1591.2,642.7Z" fill="#0000ff"/>
<path d="M1652.1,569.5 L1674.9,546.7 L1697.7,569.5 L1674.9,592.3Z" fill="#0000ff"/>
<path d="M1735.9,517.7 L1758.7,494.9 L1781.5,517.7 L1758.7,540.5Z" fill="#0000ff"/>
<path d="M1819.7,504.7 L1842.5,481.9 L1865.3,504.7 L1842.5,527.5Z" fill="#0000ff"/>
<path d="M1903.4,471.6 L1926.2,448.8 L1949.0,471.6 L1926.2,494.4Z" fill="#0000ff"/>
<path d="M1987.2,456.5 L2010.0,433.7 L2032.8,456.5 L2010.0,479.3Z" fill="#0000ff"/>
<path d="M2071.0,447.0 L2093.8,424.2 L2116.6,447.0 L2093.8,469.8Z" fill="#0000ff"/>
<polyline points="921.0,1431.0 1004.8,1288.5 1088.5,1191.8 1172.3,1077.9 1256.1,949.4 1339.8,820.8 1423.6,696.8 1507.4,580.8 1591.2,491.2 1674.9,426.2 1758.7,340.7 1842.5,286.0 1926.2,224.8 2010.0,174.0 2093.8,143.4" fill="none" stroke="#ff0000" stroke-width="4.5" stroke-linejoin="round" />
<circle cx="921.0" cy="1431.0" r="18.8" fill="#ff0000"/>
<circle cx="1004.8" cy="1288.5" r="18.8" fill="#ff0000"/>
<circle cx="1088.5" cy="1191.8" r="18.8" fill="#ff0000"/>
<circle cx="1172.3" cy="1077.9" r="18.8" fill="#ff0000"/>
<circle cx="1256.1" cy="949.4" r="18.8" fill="#ff0000"/>
<circle cx="1339.8" cy="820.8" r="18.8" fill="#ff0000"/>
<circle cx="1423.6" cy="696.8" r="18.8" fill="#ff0000"/>
<circle cx="1507.4" cy="580.8" r="18.8" fill="#ff0000"/>
<circle cx="1591.2" cy="491.2" r="18.8" fill="#ff0000"/>
<circle cx="1674.9" cy="426.2" r="18.8" fill="#ff0000"/>
<circle cx="1758.7" cy="340.7" r="18.8" fill="#ff0000"/>
<circle cx="1842.5" cy="286.0" r="18.8" fill="#ff0000"/>
<circle cx="1926.2" cy="224.8" r="18.8" fill="#ff0000"/>
<circle cx="2010.0" cy="174.0" r="18.8" fill="#ff0000"/>
<circle cx="2093.8" cy="143.4" r="18.8" fill="#ff0000"/>
<line x1="837.50" y1="60.00" x2="837.50" y2="2123.40" stroke="#000" stroke-width="5.3" />
<line x1="835.00" y1="62.50" x2="2205.00" y2="62.50" stroke="#000" stroke-width="5.3" />
<line x1="835.00" y1="2120.80" x2="2205.00" y2="2120.80" stroke="#000" stroke-width="5.5" />
<line x1="2177.50" y1="60.00" x2="2177.50" y2="2134.00" stroke="#000" stroke-width="5.3" />
<line x1="921.00" y1="2121.00" x2="921.00" y2="2147.00" stroke="#000" stroke-width="5.8" />
<text x="889.89" y="2216.6" font-size="70" letter-spacing="0.045" fill="#000" stroke="#000" stroke-width="1.47">-6</text>
<line x1="1088.54" y1="2121.00" x2="1088.54" y2="2147.00" stroke="#000" stroke-width="5.8" />
<text x="1057.43" y="2216.6" font-size="70" letter-spacing="0.045" fill="#000" stroke="#000" stroke-width="1.47">-5</text>
<line x1="1256.08" y1="2121.00" x2="1256.08" y2="2147.00" stroke="#000" stroke-width="5.8" />
<text x="1224.97" y="2216.6" font-size="70" letter-spacing="0.045" fill="#000" stroke="#000" stroke-width="1.47">-4</text>
<line x1="1423.62" y1="2121.00" x2="1423.62" y2="2147.00" stroke="#000" stroke-width="5.8" />
<text x="1392.51" y="2216.6" font-size="70" letter-spacing="0.045" fill="#000" stroke="#000" stroke-width="1.47">-3</text>
<line x1="1591.16" y1="2121.00" x2="1591.16" y2="2147.00" stroke="#000" stroke-width="5.8" />
<text x="1560.05" y="2216.6" font-size="70" letter-spacing="0.045" fill="#000" stroke="#000" stroke-width="1.47">-2</text>
<line x1="1758.70" y1="2121.00" x2="1758.70" y2="2147.00" stroke="#000" stroke-width="5.8" />
<text x="1727.59" y="2216.6" font-size="70" letter-spacing="0.045" fill="#000" stroke="#000" stroke-width="1.47">-1</text>
<line x1="1926.24" y1="2121.00" x2="1926.24" y2="2147.00" stroke="#000" stroke-width="5.8" />
<text x="1906.77" y="2216.6" font-size="70" letter-spacing="0.000" fill="#000" stroke="#000" stroke-width="1.47">0</text>
<line x1="2093.78" y1="2121.00" x2="2093.78" y2="2147.00" stroke="#000" stroke-width="5.8" />
<text x="2074.31" y="2216.6" font-size="70" letter-spacing="0.000" fill="#000" stroke="#000" stroke-width="1.47">1</text>
<line x1="1004.77" y1="2121.00" x2="1004.77" y2="2134.00" stroke="#000" stroke-width="5.8" />
<line x1="1172.31" y1="2121.00" x2="1172.31" y2="2134.00" stroke="#000" stroke-width="5.8" />
<line x1="1339.85" y1="2121.00" x2="1339.85" y2="2134.00" stroke="#000" stroke-width="5.8" />
<line x1="1507.39" y1="2121.00" x2="1507.39" y2="2134.00" stroke="#000" stroke-width="5.8" />
<line x1="1674.93" y1="2121.00" x2="1674.93" y2="2134.00" stroke="#000" stroke-width="5.8" />
<line x1="1842.47" y1="2121.00" x2="1842.47" y2="2134.00" stroke="#000" stroke-width="5.8" />
<line x1="2010.01" y1="2121.00" x2="2010.01" y2="2134.00" stroke="#000" stroke-width="5.8" />
<text x="2218.9 2253.3" y="2141.0" font-size="70" fill="#000" stroke="#000" stroke-width="1.47">10<tspan x="2290.46" dy="-28.3" font-size="46" letter-spacing="1.656" stroke-width="0.97">-12</tspan></text>
<line x1="2177.50" y1="1996.13" x2="2193.00" y2="1996.13" stroke="#000" stroke-width="5.5" />
<line x1="2177.50" y1="1923.66" x2="2193.00" y2="1923.66" stroke="#000" stroke-width="5.5" />
<line x1="2177.50" y1="1872.25" x2="2193.00" y2="1872.25" stroke="#000" stroke-width="5.5" />
<line x1="2177.50" y1="1832.37" x2="2193.00" y2="1832.37" stroke="#000" stroke-width="5.5" />
<line x1="2177.50" y1="1799.79" x2="2193.00" y2="1799.79" stroke="#000" stroke-width="5.5" />
<line x1="2177.50" y1="1772.24" x2="2193.00" y2="1772.24" stroke="#000" stroke-width="5.5" />
<line x1="2177.50" y1="1748.38" x2="2193.00" y2="1748.38" stroke="#000" stroke-width="5.5" />
<line x1="2177.50" y1="1727.33" x2="2193.00" y2="1727.33" stroke="#000" stroke-width="5.5" />
<line x1="2177.50" y1="1708.50" x2="2205.00" y2="1708.50" stroke="#000" stroke-width="5.5" />
<text x="2218.9 2253.3" y="1729.5" font-size="70" fill="#000" stroke="#000" stroke-width="1.47">10<tspan x="2290.46" dy="-28.3" font-size="46" letter-spacing="1.656" stroke-width="0.97">-11</tspan></text>
<line x1="2177.50" y1="1584.63" x2="2193.00" y2="1584.63" stroke="#000" stroke-width="5.5" />
<line x1="2177.50" y1="1512.16" x2="2193.00" y2="1512.16" stroke="#000" stroke-width="5.5" />
<line x1="2177.50" y1="1460.75" x2="2193.00" y2="1460.75" stroke="#000" stroke-width="5.5" />
<line x1="2177.50" y1="1420.87" x2="2193.00" y2="1420.87" stroke="#000" stroke-width="5.5" />
<line x1="2177.50" y1="1388.29" x2="2193.00" y2="1388.29" stroke="#000" stroke-width="5.5" />
<line x1="2177.50" y1="1360.74" x2="2193.00" y2="1360.74" stroke="#000" stroke-width="5.5" />
<line x1="2177.50" y1="1336.88" x2="2193.00" y2="1336.88" stroke="#000" stroke-width="5.5" />
<line x1="2177.50" y1="1315.83" x2="2193.00" y2="1315.83" stroke="#000" stroke-width="5.5" />
<line x1="2177.50" y1="1297.00" x2="2205.00" y2="1297.00" stroke="#000" stroke-width="5.5" />
<text x="2218.9 2253.3" y="1318.0" font-size="70" fill="#000" stroke="#000" stroke-width="1.47">10<tspan x="2290.46" dy="-28.3" font-size="46" letter-spacing="1.656" stroke-width="0.97">-10</tspan></text>
<line x1="2177.50" y1="1173.13" x2="2193.00" y2="1173.13" stroke="#000" stroke-width="5.5" />
<line x1="2177.50" y1="1100.66" x2="2193.00" y2="1100.66" stroke="#000" stroke-width="5.5" />
<line x1="2177.50" y1="1049.25" x2="2193.00" y2="1049.25" stroke="#000" stroke-width="5.5" />
<line x1="2177.50" y1="1009.37" x2="2193.00" y2="1009.37" stroke="#000" stroke-width="5.5" />
<line x1="2177.50" y1="976.79" x2="2193.00" y2="976.79" stroke="#000" stroke-width="5.5" />
<line x1="2177.50" y1="949.24" x2="2193.00" y2="949.24" stroke="#000" stroke-width="5.5" />
<line x1="2177.50" y1="925.38" x2="2193.00" y2="925.38" stroke="#000" stroke-width="5.5" />
<line x1="2177.50" y1="904.33" x2="2193.00" y2="904.33" stroke="#000" stroke-width="5.5" />
<line x1="2177.50" y1="885.50" x2="2205.00" y2="885.50" stroke="#000" stroke-width="5.5" />
<text x="2218.9 2253.3" y="906.5" font-size="70" fill="#000" stroke="#000" stroke-width="1.47">10<tspan x="2290.46" dy="-28.3" font-size="46" letter-spacing="1.656" stroke-width="0.97">-9</tspan></text>
<line x1="2177.50" y1="761.63" x2="2193.00" y2="761.63" stroke="#000" stroke-width="5.5" />
<line x1="2177.50" y1="689.16" x2="2193.00" y2="689.16" stroke="#000" stroke-width="5.5" />
<line x1="2177.50" y1="637.75" x2="2193.00" y2="637.75" stroke="#000" stroke-width="5.5" />
<line x1="2177.50" y1="597.87" x2="2193.00" y2="597.87" stroke="#000" stroke-width="5.5" />
<line x1="2177.50" y1="565.29" x2="2193.00" y2="565.29" stroke="#000" stroke-width="5.5" />
<line x1="2177.50" y1="537.74" x2="2193.00" y2="537.74" stroke="#000" stroke-width="5.5" />
<line x1="2177.50" y1="513.88" x2="2193.00" y2="513.88" stroke="#000" stroke-width="5.5" />
<line x1="2177.50" y1="492.83" x2="2193.00" y2="492.83" stroke="#000" stroke-width="5.5" />
<line x1="2177.50" y1="474.00" x2="2205.00" y2="474.00" stroke="#000" stroke-width="5.5" />
<text x="2218.9 2253.3" y="495.0" font-size="70" fill="#000" stroke="#000" stroke-width="1.47">10<tspan x="2290.46" dy="-28.3" font-size="46" letter-spacing="1.656" stroke-width="0.97">-8</tspan></text>
<line x1="2177.50" y1="350.13" x2="2193.00" y2="350.13" stroke="#000" stroke-width="5.5" />
<line x1="2177.50" y1="277.66" x2="2193.00" y2="277.66" stroke="#000" stroke-width="5.5" />
<line x1="2177.50" y1="226.25" x2="2193.00" y2="226.25" stroke="#000" stroke-width="5.5" />
<line x1="2177.50" y1="186.37" x2="2193.00" y2="186.37" stroke="#000" stroke-width="5.5" />
<line x1="2177.50" y1="153.79" x2="2193.00" y2="153.79" stroke="#000" stroke-width="5.5" />
<line x1="2177.50" y1="126.24" x2="2193.00" y2="126.24" stroke="#000" stroke-width="5.5" />
<line x1="2177.50" y1="102.38" x2="2193.00" y2="102.38" stroke="#000" stroke-width="5.5" />
<line x1="2177.50" y1="81.33" x2="2193.00" y2="81.33" stroke="#000" stroke-width="5.5" />
<text x="2218.9 2253.3" y="83.5" font-size="70" fill="#000" stroke="#000" stroke-width="1.47">10<tspan x="2290.46" dy="-28.3" font-size="46" letter-spacing="1.656" stroke-width="0.97">-7</tspan></text>
<text x="1256.21" y="2327.7" font-size="70" letter-spacing="-1.066" fill="#000" stroke="#000" stroke-width="1.47">Gate Voltage (V)</text>
<text transform="translate(2411.3,1231.4) rotate(-90)" x="-2.82" y="0" font-size="70" letter-spacing="-0.385" fill="#000" stroke="#000" stroke-width="1.47">Current (A)</text>
<text x="865.26" y="2079.1" font-size="70" letter-spacing="0.303" fill="#000" stroke="#000" stroke-width="1.47">e)</text>
<rect x="851.30" y="76.10" width="781.60" height="319.60" fill="#fff" stroke="#000" stroke-width="4.6"/>
<rect x="942.00" y="123.00" width="33.00" height="32.00" fill="#00ff00" />
<path d="M936.6,235.9 L958.9,213.7 L981.2,235.9 L958.9,258.1Z" fill="#0000ff"/>
<circle cx="958.6" cy="332.9" r="18.5" fill="#ff0000"/>
<text x="1069.48" y="165.3" font-size="80" letter-spacing="-0.465" fill="#000" stroke="#000" stroke-width="1.68">Electric Current</text>
<text x="1069.18" y="262.5" font-size="80" letter-spacing="-0.389" fill="#000" stroke="#000" stroke-width="1.68">Photocurrent</text>
<text x="1069.94" y="359.2" font-size="80" letter-spacing="-0.411" fill="#000" stroke="#000" stroke-width="1.68">Total Current</text>
<rect x="1532.30" y="1278.10" width="603.00" height="631.00" fill="#fff" stroke="#000" stroke-width="2.6"/>
<line x1="1512.40" y1="1894.70" x2="1532.00" y2="1894.70" stroke="#000" stroke-width="3.4" />
<text x="1420.91" y="1916.7" font-size="52" letter-spacing="-1.257" fill="#000" stroke="#000" stroke-width="1.09">0.0</text>
<line x1="1512.40" y1="1799.80" x2="1532.00" y2="1799.80" stroke="#000" stroke-width="3.4" />
<text x="1425.37" y="1821.8" font-size="52" letter-spacing="-1.212" fill="#000" stroke="#000" stroke-width="1.09">0.1</text>
<line x1="1512.40" y1="1704.90" x2="1532.00" y2="1704.90" stroke="#000" stroke-width="3.4" />
<text x="1420.91" y="1726.9" font-size="52" letter-spacing="-0.965" fill="#000" stroke="#000" stroke-width="1.09">0.2</text>
<line x1="1512.40" y1="1610.00" x2="1532.00" y2="1610.00" stroke="#000" stroke-width="3.4" />
<text x="1420.91" y="1632.0" font-size="52" letter-spacing="-1.130" fill="#000" stroke="#000" stroke-width="1.09">0.3</text>
<line x1="1512.40" y1="1515.10" x2="1532.00" y2="1515.10" stroke="#000" stroke-width="3.4" />
<text x="1420.91" y="1537.1" font-size="52" letter-spacing="-1.511" fill="#000" stroke="#000" stroke-width="1.09">0.4</text>
<line x1="1512.40" y1="1420.20" x2="1532.00" y2="1420.20" stroke="#000" stroke-width="3.4" />
<text x="1420.91" y="1442.2" font-size="52" letter-spacing="-1.181" fill="#000" stroke="#000" stroke-width="1.09">0.5</text>
<line x1="1512.40" y1="1325.30" x2="1532.00" y2="1325.30" stroke="#000" stroke-width="3.4" />
<text x="1420.91" y="1347.3" font-size="52" letter-spacing="-1.130" fill="#000" stroke="#000" stroke-width="1.09">0.6</text>
<line x1="1545.50" y1="1909.00" x2="1545.50" y2="1929.90" stroke="#000" stroke-width="3.8" />
<text x="1531.04" y="1995.6" font-size="52" letter-spacing="0.000" fill="#000" stroke="#000" stroke-width="1.09">0</text>
<line x1="1672.30" y1="1909.00" x2="1672.30" y2="1929.90" stroke="#000" stroke-width="3.8" />
<text x="1657.84" y="1995.6" font-size="52" letter-spacing="0.000" fill="#000" stroke="#000" stroke-width="1.09">2</text>
<line x1="1799.10" y1="1909.00" x2="1799.10" y2="1929.90" stroke="#000" stroke-width="3.8" />
<text x="1784.64" y="1995.6" font-size="52" letter-spacing="0.000" fill="#000" stroke="#000" stroke-width="1.09">4</text>
<line x1="1925.90" y1="1909.00" x2="1925.90" y2="1929.90" stroke="#000" stroke-width="3.8" />
<text x="1911.44" y="1995.6" font-size="52" letter-spacing="0.000" fill="#000" stroke="#000" stroke-width="1.09">6</text>
<line x1="2052.70" y1="1909.00" x2="2052.70" y2="1929.90" stroke="#000" stroke-width="3.8" />
<text x="2038.24" y="1995.6" font-size="52" letter-spacing="0.000" fill="#000" stroke="#000" stroke-width="1.09">8</text>
<text x="1688.98" y="2060.3" font-size="52" letter-spacing="-0.680" fill="#000" stroke="#000" stroke-width="1.09">Length (µm)</text>
<text transform="translate(1388.5,1815.0) rotate(-90)" x="-3.72" y="0" font-size="52" letter-spacing="-0.976" fill="#000" stroke="#000" stroke-width="1.09">Photocurrent (nA)</text>
<polyline points="1540.8,1813.0 1547.1,1812.8 1553.5,1812.6 1559.8,1812.4 1566.1,1812.2 1572.5,1812.0 1578.8,1811.7 1585.1,1811.5 1591.4,1811.1 1597.8,1810.8 1604.1,1810.3 1610.4,1809.7 1616.8,1809.1 1623.1,1808.4 1629.4,1807.7 1635.8,1806.9 1642.1,1806.0 1648.4,1804.8 1654.7,1802.9 1661.1,1800.5 1667.4,1797.6 1673.7,1794.2 1680.1,1790.2 1686.4,1785.4 1692.7,1779.4 1699.0,1772.2 1705.4,1764.1 1711.7,1754.5 1718.0,1742.9 1724.4,1728.9 1730.7,1711.7 1737.0,1691.1 1743.4,1668.7 1749.7,1643.9 1756.0,1616.2 1762.3,1585.1 1768.7,1551.4 1775.0,1515.1 1781.3,1473.5 1787.7,1432.7 1794.0,1397.5 1800.3,1366.6 1806.7,1344.4 1813.0,1329.8 1819.3,1324.4 1825.7,1325.3 1832.0,1334.7 1838.3,1351.2 1844.6,1379.3 1851.0,1412.9 1857.3,1453.2 1863.6,1490.3 1870.0,1525.8 1876.3,1559.8 1882.6,1592.8 1888.9,1623.4 1895.3,1650.3 1901.6,1674.5 1907.9,1697.3 1914.3,1719.9 1920.6,1738.6 1926.9,1751.3 1933.3,1760.1 1939.6,1765.7 1945.9,1771.7 1952.2,1779.3 1958.6,1786.0 1964.9,1791.4 1971.2,1795.9 1977.6,1799.7 1983.9,1802.9 1990.2,1804.9 1996.6,1806.4 2002.9,1807.1 2009.2,1806.6 2015.5,1805.6 2021.9,1805.1 2028.2,1805.3 2034.5,1805.7 2040.9,1806.3 2047.2,1806.8 2053.5,1807.3 2059.9,1807.9 2066.2,1808.5 2072.5,1809.0 2078.8,1809.4 2085.2,1809.6 2091.5,1809.6 2097.8,1809.7 2104.2,1809.7 2110.5,1809.7 2116.8,1809.7 2123.2,1809.7 2129.5,1809.7" fill="none" stroke="#e31e24" stroke-width="5.5" stroke-linejoin="round" />
<g fill="none" stroke="#e31e24" stroke-width="6.6"><circle cx="1540.8" cy="1813.0" r="7.5"/><circle cx="1547.1" cy="1812.8" r="7.5"/><circle cx="1553.5" cy="1812.6" r="7.5"/><circle cx="1559.8" cy="1812.4" r="7.5"/><circle cx="1566.1" cy="1812.2" r="7.5"/><circle cx="1572.5" cy="1812.0" r="7.5"/><circle cx="1578.8" cy="1811.7" r="7.5"/><circle cx="1585.1" cy="1811.5" r="7.5"/><circle cx="1591.4" cy="1811.1" r="7.5"/><circle cx="1597.8" cy="1810.8" r="7.5"/><circle cx="1604.1" cy="1810.3" r="7.5"/><circle cx="1610.4" cy="1809.7" r="7.5"/><circle cx="1616.8" cy="1809.1" r="7.5"/><circle cx="1623.1" cy="1808.4" r="7.5"/><circle cx="1629.4" cy="1807.7" r="7.5"/><circle cx="1635.8" cy="1806.9" r="7.5"/><circle cx="1642.1" cy="1806.0" r="7.5"/><circle cx="1648.4" cy="1804.8" r="7.5"/><circle cx="1654.7" cy="1802.9" r="7.5"/><circle cx="1661.1" cy="1800.5" r="7.5"/><circle cx="1667.4" cy="1797.6" r="7.5"/><circle cx="1673.7" cy="1794.2" r="7.5"/><circle cx="1680.1" cy="1790.2" r="7.5"/><circle cx="1686.4" cy="1785.4" r="7.5"/><circle cx="1692.7" cy="1779.4" r="7.5"/><circle cx="1699.0" cy="1772.2" r="7.5"/><circle cx="1705.4" cy="1764.1" r="7.5"/><circle cx="1711.7" cy="1754.5" r="7.5"/><circle cx="1718.0" cy="1742.9" r="7.5"/><circle cx="1724.4" cy="1728.9" r="7.5"/><circle cx="1730.7" cy="1711.7" r="7.5"/><circle cx="1737.0" cy="1691.1" r="7.5"/><circle cx="1743.4" cy="1668.7" r="7.5"/><circle cx="1749.7" cy="1643.9" r="7.5"/><circle cx="1756.0" cy="1616.2" r="7.5"/><circle cx="1762.3" cy="1585.1" r="7.5"/><circle cx="1768.7" cy="1551.4" r="7.5"/><circle cx="1775.0" cy="1515.1" r="7.5"/><circle cx="1781.3" cy="1473.5" r="7.5"/><circle cx="1787.7" cy="1432.7" r="7.5"/><circle cx="1794.0" cy="1397.5" r="7.5"/><circle cx="1800.3" cy="1366.6" r="7.5"/><circle cx="1806.7" cy="1344.4" r="7.5"/><circle cx="1813.0" cy="1329.8" r="7.5"/><circle cx="1819.3" cy="1324.4" r="7.5"/><circle cx="1825.7" cy="1325.3" r="7.5"/><circle cx="1832.0" cy="1334.7" r="7.5"/><circle cx="1838.3" cy="1351.2" r="7.5"/><circle cx="1844.6" cy="1379.3" r="7.5"/><circle cx="1851.0" cy="1412.9" r="7.5"/><circle cx="1857.3" cy="1453.2" r="7.5"/><circle cx="1863.6" cy="1490.3" r="7.5"/><circle cx="1870.0" cy="1525.8" r="7.5"/><circle cx="1876.3" cy="1559.8" r="7.5"/><circle cx="1882.6" cy="1592.8" r="7.5"/><circle cx="1888.9" cy="1623.4" r="7.5"/><circle cx="1895.3" cy="1650.3" r="7.5"/><circle cx="1901.6" cy="1674.5" r="7.5"/><circle cx="1907.9" cy="1697.3" r="7.5"/><circle cx="1914.3" cy="1719.9" r="7.5"/><circle cx="1920.6" cy="1738.6" r="7.5"/><circle cx="1926.9" cy="1751.3" r="7.5"/><circle cx="1933.3" cy="1760.1" r="7.5"/><circle cx="1939.6" cy="1765.7" r="7.5"/><circle cx="1945.9" cy="1771.7" r="7.5"/><circle cx="1952.2" cy="1779.3" r="7.5"/><circle cx="1958.6" cy="1786.0" r="7.5"/><circle cx="1964.9" cy="1791.4" r="7.5"/><circle cx="1971.2" cy="1795.9" r="7.5"/><circle cx="1977.6" cy="1799.7" r="7.5"/><circle cx="1983.9" cy="1802.9" r="7.5"/><circle cx="1990.2" cy="1804.9" r="7.5"/><circle cx="1996.6" cy="1806.4" r="7.5"/><circle cx="2002.9" cy="1807.1" r="7.5"/><circle cx="2009.2" cy="1806.6" r="7.5"/><circle cx="2015.5" cy="1805.6" r="7.5"/><circle cx="2021.9" cy="1805.1" r="7.5"/><circle cx="2028.2" cy="1805.3" r="7.5"/><circle cx="2034.5" cy="1805.7" r="7.5"/><circle cx="2040.9" cy="1806.3" r="7.5"/><circle cx="2047.2" cy="1806.8" r="7.5"/><circle cx="2053.5" cy="1807.3" r="7.5"/><circle cx="2059.9" cy="1807.9" r="7.5"/><circle cx="2066.2" cy="1808.5" r="7.5"/><circle cx="2072.5" cy="1809.0" r="7.5"/><circle cx="2078.8" cy="1809.4" r="7.5"/><circle cx="2085.2" cy="1809.6" r="7.5"/><circle cx="2091.5" cy="1809.6" r="7.5"/><circle cx="2097.8" cy="1809.7" r="7.5"/><circle cx="2104.2" cy="1809.7" r="7.5"/><circle cx="2110.5" cy="1809.7" r="7.5"/><circle cx="2116.8" cy="1809.7" r="7.5"/><circle cx="2123.2" cy="1809.7" r="7.5"/><circle cx="2129.5" cy="1809.7" r="7.5"/></g>
</svg>
</body></html>
